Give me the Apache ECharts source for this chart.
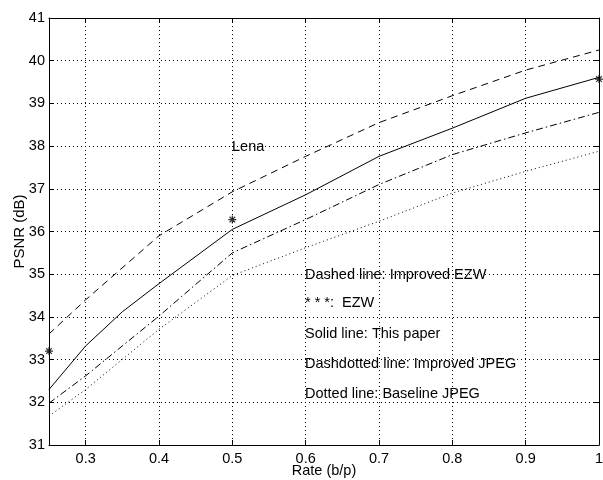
<!DOCTYPE html>
<html><head><meta charset="utf-8">
<script src="https://cdn.jsdelivr.net/npm/echarts@6/dist/echarts.min.js"></script>
<style>html,body{margin:0;padding:0;background:#fff;overflow:hidden}#c{width:603px;height:480px}</style>
</head><body><div id="c"></div>
<script>
var xTicks = [0.3, 0.4, 0.5, 0.6, 0.7, 0.8, 0.9, 1];
var rates = [0.25, 0.3, 0.4, 0.5, 0.6, 0.7, 0.8, 0.9, 1.0];
var improvedEZW = [33.6, 34.4, 35.9, 36.93, 37.76, 38.55, 39.18, 39.78, 40.25];
var solidRates = [0.25, 0.3, 0.35, 0.4, 0.5, 0.6, 0.7, 0.8, 0.9, 1.0];
var thisPaper = [32.3, 33.32, 34.12, 34.78, 36.05, 36.86, 37.76, 38.42, 39.12, 39.61];
var improvedJPEG = [31.98, 32.62, 34.02, 35.5, 36.28, 37.1, 37.8, 38.31, 38.79];
var baselineJPEG = [31.68, 32.3, 33.71, 34.97, 35.62, 36.24, 36.9, 37.41, 37.88];
var ezwRates = [0.25, 0.5, 1.0];
var ezw = [33.2, 36.28, 39.57];
var legendLines = ['Dashed line: Improved EZW', '* * *:  EZW', 'Solid line: This paper', 'Dashdotted line: Improved JPEG', 'Dotted line: Baseline JPEG'];

function pairs(xs, ys) { return xs.map(function (x, i) { return [x, ys[i]]; }); }

var FONT = 'Liberation Sans, Arial, Helvetica, sans-serif';
var chart = echarts.init(document.getElementById('c'));
var lineBase = { type: 'line', symbol: 'none', xAxisIndex: 0, yAxisIndex: 0, animation: false, clip: false };
var asterisk = 'path://M0,-5L0,5M-5,0L5,0M-3.5,-3.5L3.5,3.5M-3.5,3.5L3.5,-3.5';

var graphics = [{
  type: 'text', left: 232, top: 139,
  style: { text: 'Lena', font: '14.5px ' + FONT, fill: '#000' }
}];
var legendTops = [267, 295, 326, 356, 386];
legendLines.forEach(function (t, i) {
  graphics.push({ type: 'text', left: 305, top: legendTops[i], style: { text: t, font: '14.5px ' + FONT, fill: '#000' } });
});

chart.setOption({
  backgroundColor: '#fff',
  animation: false,
  grid: { left: 49, right: 4, top: 18, bottom: 35, containLabel: false, outerBoundsMode: 'none' },
  xAxis: [{
    type: 'value', min: 0.25, max: 1, position: 'bottom',
    name: 'Rate (b/p)', nameLocation: 'middle', nameGap: 18, nameMoveOverlap: false,
    nameTextStyle: { fontFamily: FONT, fontSize: 14.5, color: '#000' },
    axisLine: { show: true, onZero: false, lineStyle: { color: '#000', width: 1 } },
    axisTick: { show: true, inside: true, length: 5, customValues: xTicks, lineStyle: { color: '#000' } },
    axisLabel: { customValues: xTicks, margin: 6, fontFamily: FONT, fontSize: 14.5, color: '#000',
      formatter: function (v) { return v === 1 ? '1' : String(+v.toFixed(1)); } },
    splitLine: { show: true, lineStyle: { color: '#000', type: [1, 3], width: 1 } }
  }, {
    type: 'value', min: 0.25, max: 1, position: 'top',
    axisLine: { show: true, onZero: false, lineStyle: { color: '#000', width: 1 } },
    axisTick: { show: true, inside: true, length: 5, customValues: xTicks, lineStyle: { color: '#000' } },
    axisLabel: { show: false }, splitLine: { show: false }
  }],
  yAxis: [{
    type: 'value', min: 31, max: 41, interval: 1, position: 'left',
    name: 'PSNR (dB)', nameLocation: 'middle', nameGap: 22, nameMoveOverlap: false,
    nameTextStyle: { fontFamily: FONT, fontSize: 15, color: '#000' },
    axisLine: { show: true, onZero: false, lineStyle: { color: '#000', width: 1 } },
    axisTick: { show: true, inside: true, length: 5, lineStyle: { color: '#000' } },
    axisLabel: { margin: 4, fontFamily: FONT, fontSize: 14.5, color: '#000' },
    splitLine: { show: true, lineStyle: { color: '#000', type: [1, 3], width: 1 } }
  }, {
    type: 'value', min: 31, max: 41, interval: 1, position: 'right',
    axisLine: { show: true, onZero: false, lineStyle: { color: '#000', width: 1 } },
    axisTick: { show: true, inside: true, length: 5, lineStyle: { color: '#000' } },
    axisLabel: { show: false }, splitLine: { show: false }
  }],
  graphic: graphics,
  series: [
    Object.assign({}, lineBase, { name: 'Improved EZW', data: pairs(rates, improvedEZW), lineStyle: { color: '#000', width: 1, type: [7, 5] } }),
    Object.assign({}, lineBase, { name: 'This paper', data: pairs(solidRates, thisPaper), lineStyle: { color: '#000', width: 1, type: 'solid' } }),
    Object.assign({}, lineBase, { name: 'Improved JPEG', data: pairs(rates, improvedJPEG), lineStyle: { color: '#000', width: 1, type: [7, 3, 1.5, 3] } }),
    Object.assign({}, lineBase, { name: 'Baseline JPEG', data: pairs(rates, baselineJPEG), lineStyle: { color: '#000', width: 1, type: [1, 3] } }),
    { type: 'scatter', name: 'EZW', data: pairs(ezwRates, ezw), symbol: asterisk, symbolSize: 8, clip: false,
      itemStyle: { color: 'none', borderColor: '#000', borderWidth: 1.2 }, animation: false }
  ]
});
</script></body></html>
